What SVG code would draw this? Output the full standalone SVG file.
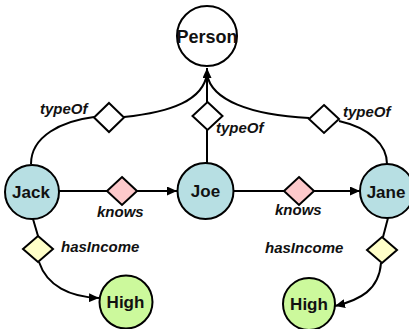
<svg xmlns="http://www.w3.org/2000/svg" width="409" height="329" viewBox="0 0 409 329">
  <style>
    .edge { fill: none; stroke: #000; stroke-width: 2; }
    .arrow { marker-end: url(#head); }
    .node { stroke: #000; stroke-width: 2; }
    .entity { fill: #b7dfe3; }
    .klass { fill: #ffffff; }
    .value { fill: #ccf99c; }
    .prop { stroke: #000; stroke-width: 2; }
    .p-type { fill: #ffffff; }
    .p-knows { fill: #fdc9cb; }
    .p-income { fill: #ffffc8; }
    .name { font-family: "Liberation Sans", Arial, sans-serif; font-weight: bold; font-size: 17px; fill: #111; text-anchor: middle; }
    .rel { font-family: "Liberation Sans", Arial, sans-serif; font-weight: bold; font-style: italic; font-size: 15px; fill: #111; }
  </style>
  <defs>
    <marker id="head" viewBox="0 0 10 9" markerWidth="10" markerHeight="9" refX="10" refY="4.5" orient="auto" markerUnits="userSpaceOnUse">
      <path d="M0,0 L10,4.5 L0,9 z" fill="#000"/>
    </marker>
  </defs>

  <!-- connectors -->
  <g id="connectors">
    <!-- typeOf: Jack -> Person -->
    <path class="edge" d="M31,164 C31,136 62,121 94,117"/>
    <path class="edge" d="M124,117 C172,112 203,100 207,74"/>
    <!-- typeOf: Joe -> Person -->
    <path class="edge" d="M207,163 L207,130"/>
    <path class="edge arrow" d="M207,102 L207,68"/>
    <!-- typeOf: Jane -> Person -->
    <path class="edge" d="M387,164 C387,145 370,128 339,121"/>
    <path class="edge" d="M309,118 C250,115 211,100 207,74"/>
    <!-- knows: Jack -> Joe -> Jane -->
    <path class="edge" d="M59,191 L107,191"/>
    <path class="edge arrow" d="M137,191 L177,191"/>
    <path class="edge" d="M234,191 L284,191"/>
    <path class="edge arrow" d="M314,191 L360,191"/>
    <!-- hasIncome -->
    <path class="edge" d="M33,219 L38,236"/>
    <path class="edge arrow" d="M39,262 C47,286 70,297 99,298"/>
    <path class="edge" d="M388,218 L383,237"/>
    <path class="edge arrow" d="M381,263 C379,290 360,300 335,306"/>
  </g>

  <!-- property diamonds and labels -->
  <g id="typeOf-jack">
    <polygon class="prop p-type" points="109,103 124,117.5 109,132 94,117.5"/>
    <text class="rel" x="40" y="114">typeOf</text>
  </g>
  <g id="typeOf-joe">
    <polygon class="prop p-type" points="207.5,102 222.5,116 207.5,130 192.5,116"/>
    <text class="rel" x="216" y="133">typeOf</text>
  </g>
  <g id="typeOf-jane">
    <polygon class="prop p-type" points="324,105 339,119 324,133 309,119"/>
    <text class="rel" x="343" y="117">typeOf</text>
  </g>
  <g id="knows-jack-joe">
    <polygon class="prop p-knows" points="122,177 137,191 122,205 107,191"/>
    <text class="rel" x="97" y="217">knows</text>
  </g>
  <g id="knows-joe-jane">
    <polygon class="prop p-knows" points="299,177 314,191 299,205 284,191"/>
    <text class="rel" x="275" y="215">knows</text>
  </g>
  <g id="hasIncome-jack">
    <polygon class="prop p-income" points="38,236 53,249 38,262 23,249"/>
    <text class="rel" x="61" y="252">hasIncome</text>
  </g>
  <g id="hasIncome-jane">
    <polygon class="prop p-income" points="382,237 397,250 382,263 367,250"/>
    <text class="rel" x="265" y="253">hasIncome</text>
  </g>

  <!-- nodes -->
  <g id="person">
    <circle class="node klass" cx="207" cy="36" r="30"/>
    <text class="name" x="207" y="43" style="font-size:18px">Person</text>
  </g>
  <g id="jack">
    <circle class="node entity" cx="32" cy="192" r="27"/>
    <text class="name" x="31" y="198">Jack</text>
  </g>
  <g id="joe">
    <circle class="node entity" cx="205.5" cy="191" r="28"/>
    <text class="name" x="205.5" y="197">Joe</text>
  </g>
  <g id="jane">
    <circle class="node entity" cx="387" cy="191" r="27"/>
    <text class="name" x="386" y="198">Jane</text>
  </g>
  <g id="high-jack">
    <circle class="node value" cx="126" cy="302" r="26.5"/>
    <text class="name" x="125.5" y="308">High</text>
  </g>
  <g id="high-jane">
    <circle class="node value" cx="309" cy="304" r="26"/>
    <text class="name" x="309" y="310">High</text>
  </g>
</svg>
